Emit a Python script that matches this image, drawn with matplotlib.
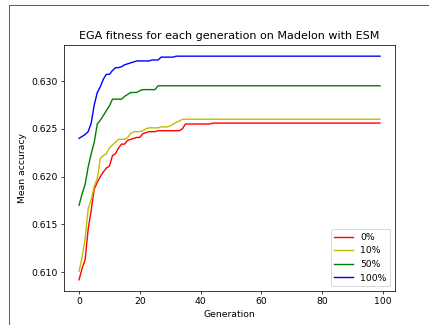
import matplotlib

matplotlib.use("Agg")
import matplotlib.pyplot as plt
from matplotlib.lines import Line2D

# mean accuracy per generation
generations = list(range(100))

acc_0 = [
    0.6092, 0.6104, 0.6113, 0.6145, 0.6165, 0.6187, 0.6194, 0.6200, 0.6205, 0.6209,
    0.6211, 0.6222, 0.6224, 0.6230, 0.6234, 0.6234, 0.6238, 0.6239, 0.6240, 0.6241,
    0.6241, 0.6245, 0.6246, 0.6247, 0.6247, 0.6247, 0.6248, 0.6248, 0.6248, 0.6248,
    0.6248, 0.6248, 0.6248, 0.6248, 0.6250, 0.6255, 0.6255, 0.6255, 0.6255, 0.6255,
    0.6255, 0.6255, 0.6255, 0.6255,
] + [0.6256] * 56

acc_10 = [
    0.6101, 0.6115, 0.6135, 0.6166, 0.6176, 0.6190, 0.6198, 0.6219, 0.6222, 0.6224,
    0.6230, 0.6233, 0.6236, 0.6239, 0.6239, 0.6239, 0.6241, 0.6245, 0.6247, 0.6247,
    0.6247, 0.6248, 0.6250, 0.6251, 0.6251, 0.6251, 0.6251, 0.6252, 0.6252, 0.6252,
    0.6253, 0.6255, 0.6257, 0.6258,
] + [0.6260] * 66

acc_50 = [
    0.6170, 0.6182, 0.6192, 0.6210, 0.6224, 0.6236, 0.6255, 0.6259, 0.6264, 0.6269,
    0.6274, 0.6281, 0.6281, 0.6281, 0.6281, 0.6284, 0.6286, 0.6288, 0.6288, 0.6288,
    0.6290, 0.6291, 0.6291, 0.6291, 0.6291, 0.6291,
] + [0.6295] * 74

acc_100 = [
    0.6240, 0.6242, 0.6244, 0.6247, 0.6256, 0.6275, 0.6288, 0.6294, 0.6302, 0.6307,
    0.6307, 0.6311, 0.6314, 0.6314, 0.6315, 0.6317, 0.6318, 0.6319, 0.6320, 0.6321,
    0.6321, 0.6321, 0.6321, 0.6321, 0.6322, 0.6322, 0.6322, 0.6325, 0.6325, 0.6325,
    0.6325, 0.6325,
] + [0.6326] * 68

series = [
    ("0%", acc_0, "r"),
    ("10%", acc_10, "y"),
    ("50%", acc_50, "g"),
    ("100%", acc_100, "b"),
]

fig = plt.figure(figsize=(6.435, 4.875), dpi=66.667)
ax = fig.add_axes([0.1492, 0.1046, 0.7716, 0.757])

for label, values, color in series:
    ax.plot(generations, values, color=color, label=label)

ax.set_title("EGA fitness for each generation on Madelon with ESM")
ax.set_xlabel("Generation")
ax.set_ylabel("Mean accuracy")
ax.legend(loc="lower right")

# thin frame left over from the original screenshot
fig.add_artist(Line2D([0.0221, 0.0221], [0.0, 0.9846], color="#555555", lw=1.0))
fig.add_artist(Line2D([0.0221, 1.0], [0.9846, 0.9846], color="#555555", lw=1.0))

fig.savefig("out.png", dpi=66.667)
plt.close(fig)
